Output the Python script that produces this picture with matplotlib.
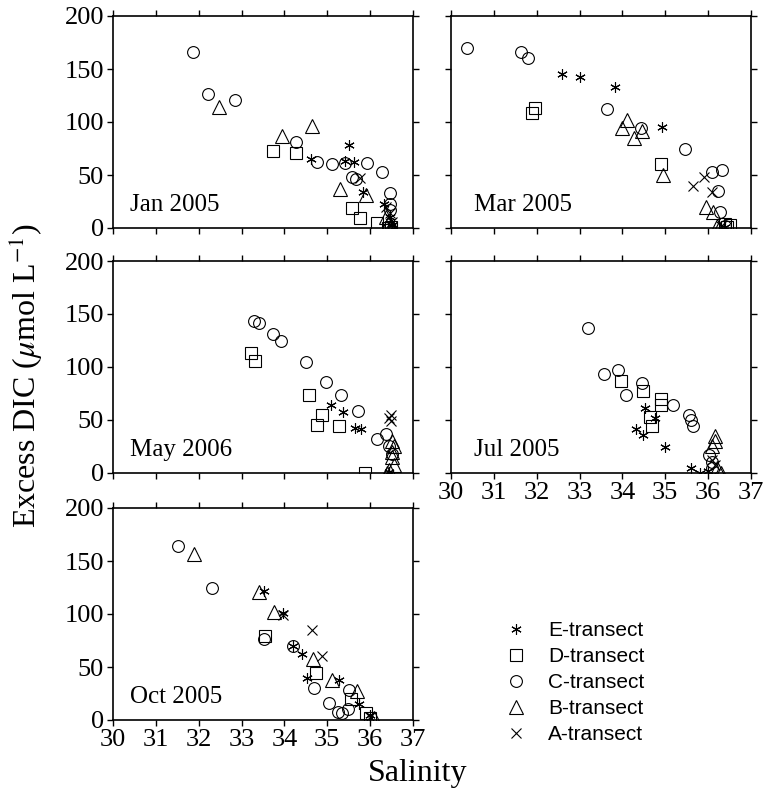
import matplotlib.pyplot as plt
from matplotlib.lines import Line2D

plt.rcParams['font.family'] = 'Liberation Serif'
plt.rcParams['mathtext.fontset'] = 'stix'

# ---- data (salinity, excess DIC) per panel and transect ----
jan_E_x = [35.51, 34.63, 35.41, 35.63, 35.84, 36.32, 36.46, 36.50]
jan_E_y = [78, 65, 63.5, 62, 34, 22.6, 10.7, 3]
jan_D_x = [33.74, 34.27, 35.57, 35.76, 36.15, 36.42, 36.48]
jan_D_y = [73, 70.4, 18.5, 9, 5, 0, 1]
jan_C_x = [31.87, 32.21, 32.85, 34.28, 34.77, 35.12, 35.42, 35.92, 36.27, 35.58, 35.68, 36.46, 36.46, 36.46]
jan_C_y = [165.7, 126.7, 120.4, 81, 62.6, 60, 61.6, 61, 53, 48.4, 46, 33, 23, 17]
jan_B_x = [32.48, 33.94, 34.64, 35.30, 35.90, 36.38, 36.45, 36.48, 36.50]
jan_B_y = [113.8, 87, 96.5, 36.8, 31, 10.7, 6, 2, 0]
jan_A_x = [35.76, 36.38, 36.46, 36.50, 36.50]
jan_A_y = [47, 20, 14, 6, 1]

mar_E_x = [32.60, 33.02, 33.83, 34.93, 36.40]
mar_E_y = [145.3, 142.8, 133.3, 95.6, 1]
mar_D_x = [31.96, 31.90, 34.90, 36.40, 36.45, 36.50]
mar_D_y = [113.5, 108.2, 60, 4, 1, 3]
mar_C_x = [30.37, 31.63, 31.80, 33.63, 34.43, 35.46, 36.08, 36.32, 36.22, 36.28, 36.40]
mar_C_y = [169.5, 166.4, 160, 112, 94.7, 74.5, 53, 55, 35, 15, 2]
mar_B_x = [34.10, 34.00, 34.28, 34.46, 34.95, 35.95, 36.12, 36.20, 36.25]
mar_B_y = [102, 94.7, 85, 91.8, 50, 20, 15.4, 2, 0]
mar_A_x = [35.65, 35.91, 36.08, 36.30]
mar_A_y = [39.6, 48.4, 34.3, 2]

may_E_x = [35.09, 35.37, 35.65, 35.78, 36.45]
may_E_y = [63.8, 57.2, 42, 41.7, 1]
may_D_x = [33.21, 33.31, 34.57, 34.88, 34.77, 35.27, 35.88]
may_D_y = [113.4, 105.5, 73.3, 54.3, 44.9, 43.9, 0]
may_C_x = [33.30, 33.41, 33.74, 33.91, 34.50, 34.97, 35.33, 35.72, 36.15, 36.37, 36.45, 36.50]
may_C_y = [143.4, 141.5, 131.4, 124.2, 104.3, 85.6, 73.3, 58.1, 32, 37, 25, 18]
may_B_x = [36.50, 36.55, 36.50, 36.50, 36.55, 36.45, 36.40]
may_B_y = [30, 25, 20, 15, 8, 3, 0]
may_A_x = [36.49, 36.49, 36.45]
may_A_y = [55, 48.7, 52]

jul_E_x = [34.53, 34.76, 34.32, 34.49, 34.99, 35.60, 35.80, 36.00]
jul_E_y = [61.3, 51.8, 41.4, 35.4, 24.3, 5, 0, 2]
jul_D_x = [33.97, 34.49, 34.89, 34.89, 34.64, 34.68]
jul_D_y = [87.2, 77.7, 69.8, 64.5, 52.8, 43.9]
jul_C_x = [33.19, 33.57, 33.89, 34.08, 34.45, 35.19, 35.55, 35.60, 35.65, 36.02, 36.08, 36.10]
jul_C_y = [136.5, 93.8, 97, 74, 85, 64.5, 54.3, 50.2, 43.9, 17, 10, 5]
jul_B_x = [36.15, 36.15, 36.10, 36.20, 36.30]
jul_B_y = [35, 30, 25, 5, 0]
jul_A_x = [36.10, 36.15]
jul_A_y = [12, 8]

oct_E_x = [33.53, 33.96, 34.19, 34.40, 34.52, 35.28, 35.75, 36.00]
oct_E_y = [121.6, 100.5, 70.1, 62.6, 39.5, 37.9, 15, 5]
oct_D_x = [33.55, 34.74, 35.55, 35.90, 36.00]
oct_D_y = [79, 44.2, 20, 7, 2]
oct_C_x = [31.52, 32.32, 33.53, 34.19, 34.70, 35.05, 35.25, 35.35, 35.48, 35.50]
oct_C_y = [163.7, 124.8, 76.5, 70.1, 30, 16, 8, 7, 10, 28]
oct_B_x = [31.89, 33.41, 33.76, 34.66, 35.12, 35.70, 36.10]
oct_B_y = [156.4, 121, 102, 57.5, 37.9, 27, 2]
oct_A_x = [33.97, 34.64, 34.87, 36.00]
oct_A_y = [99.5, 85.3, 60, 3]

panels = [
    ('Jan 2005', [jan_E_x, jan_D_x, jan_C_x, jan_B_x, jan_A_x], [jan_E_y, jan_D_y, jan_C_y, jan_B_y, jan_A_y]),
    ('Mar 2005', [mar_E_x, mar_D_x, mar_C_x, mar_B_x, mar_A_x], [mar_E_y, mar_D_y, mar_C_y, mar_B_y, mar_A_y]),
    ('May 2006', [may_E_x, may_D_x, may_C_x, may_B_x, may_A_x], [may_E_y, may_D_y, may_C_y, may_B_y, may_A_y]),
    ('Jul 2005', [jul_E_x, jul_D_x, jul_C_x, jul_B_x, jul_A_x], [jul_E_y, jul_D_y, jul_C_y, jul_B_y, jul_A_y]),
    ('Oct 2005', [oct_E_x, oct_D_x, oct_C_x, oct_B_x, oct_A_x], [oct_E_y, oct_D_y, oct_C_y, oct_B_y, oct_A_y]),
]
transects = ['E-transect', 'D-transect', 'C-transect', 'B-transect', 'A-transect']
markers = [(6, 2, 0), 's', 'o', '^', 'x']
msizes = [7.5, 8.5, 8.5, 9.5, 7]

# axes rectangles in figure fractions
W, H = 767, 793
lefts = [113, 451, 113, 451, 113]
bottoms = [228, 228, 473, 473, 720]
aw, ah = 300, 212

fig = plt.figure(figsize=(W / 100, H / 100), dpi=100)

for i, (name, xs, ys) in enumerate(panels):
    ax = fig.add_axes([lefts[i] / W, 1 - bottoms[i] / H, aw / W, ah / H])
    for k in range(5):
        ax.plot(xs[k], ys[k], linestyle='none', marker=markers[k], ms=msizes[k],
                mfc='none', mec='black', mew=0.8, color='black')
    ax.set_xlim(30, 37)
    ax.set_ylim(0, 200)
    ax.set_xticks(range(30, 38))
    ax.set_yticks([0, 50, 100, 150, 200])
    ax.tick_params(direction='out', length=4, width=1, top=True, right=True,
                   labelsize=19, pad=2.5)
    if i in (1, 3):
        ax.tick_params(labelleft=False)
    if i in (0, 1, 2):
        ax.tick_params(labelbottom=False)
    for s in ax.spines.values():
        s.set_linewidth(1.2)
    ax.text(0.058 if i % 2 == 0 else 0.077, 0.08, name, transform=ax.transAxes,
            fontsize=18)

fig.text(0.034, 0.526, r'Excess DIC ($\mathit{\mu}$mol L$^{-1}$)', rotation=90,
         ha='center', va='center', fontsize=23)
fig.text(0.545, 0.024, 'Salinity', ha='center', va='center', fontsize=23)

handles = [Line2D([], [], linestyle='none', marker=markers[k], ms=msizes[k],
                  mfc='none', mec='black', mew=0.8) for k in range(5)]
fig.legend(handles, transects, loc='upper left', bbox_to_anchor=(0.628, 0.24),
           frameon=False, prop={'family': 'Liberation Sans', 'size': 15},
           handletextpad=0.8, labelspacing=0.33, handlelength=1.5)

fig.savefig('out.png', dpi=100)
